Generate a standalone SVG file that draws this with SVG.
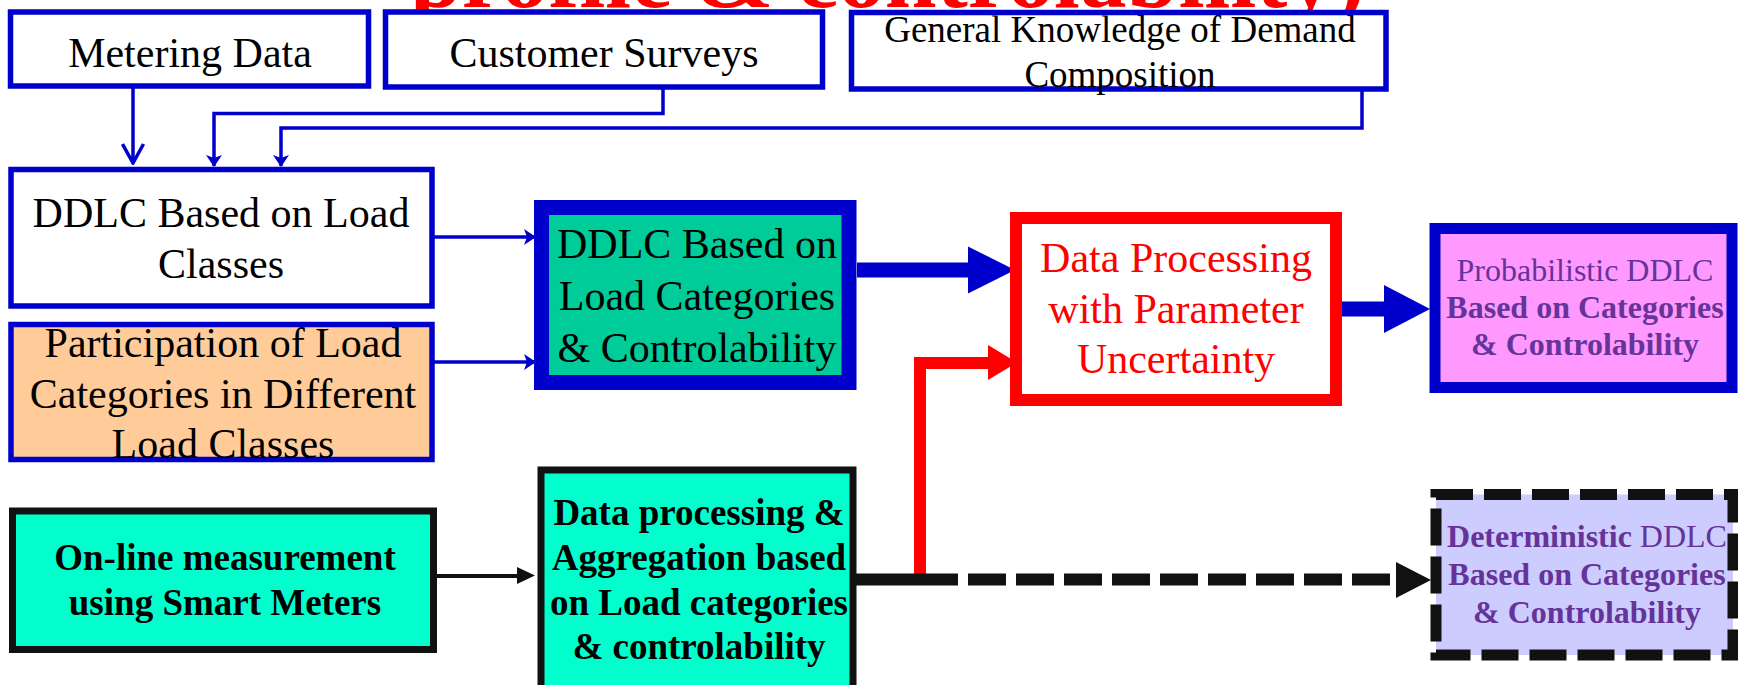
<svg xmlns="http://www.w3.org/2000/svg" width="1738" height="685" viewBox="0 0 1738 685">
<defs>
<style>
text{font-family:"Liberation Serif","Times New Roman",serif;text-anchor:middle}
.t42{font-size:42px;fill:#000}
.t37{font-size:37px;fill:#000}
.b37{font-size:37px;font-weight:bold;fill:#000}
.p32{font-size:32px;fill:#663399}
.bold{font-weight:bold}
.red{fill:#FF0000}
.bbox{stroke:#0000CC;stroke-width:5.5}
.thin{fill:none;stroke:#0000CC;stroke-width:3.5}
</style>
<marker id="ahBlue" markerUnits="userSpaceOnUse" viewBox="0 0 12 16" markerWidth="12" markerHeight="16" refX="11" refY="8" orient="auto">
<path d="M0,0 L12,8 L0,16 L3,8 Z" fill="#0000CC"/>
</marker>
<marker id="ahOpen" markerUnits="userSpaceOnUse" viewBox="-2 -2 23 25" markerWidth="23" markerHeight="25" refX="18" refY="10.5" orient="auto">
<path d="M0,0 L19,10.5 L0,21" fill="none" stroke="#0000CC" stroke-width="3.5"/>
</marker>
</defs>
<rect width="1738" height="685" fill="#FFFFFF"/>
<text x="410" y="7" style="text-anchor:start;font-size:92px;font-weight:bold;fill:#FF0000" textLength="955" lengthAdjust="spacingAndGlyphs">profile &amp; controlability)</text>

<g id="connectors">
<path class="thin" d="M133,86 V162" marker-end="url(#ahOpen)"/>
<path class="thin" d="M663,88 V113.5 H214 V166" marker-end="url(#ahBlue)"/>
<path class="thin" d="M1362,91 V128 H281 V166" marker-end="url(#ahBlue)"/>
<path class="thin" d="M432,237 H535" marker-end="url(#ahBlue)"/>
<path class="thin" d="M432,362 H535" marker-end="url(#ahBlue)"/>
<path d="M857,262.5 H968 V246.5 L1015,270 L968,293.5 V277.5 H857 Z" fill="#0000CC"/>
<path d="M1341,301.5 H1384 V285 L1430,309 L1384,333 V316.5 H1341 Z" fill="#0000CC"/>
<path d="M920,574 V363 H990" fill="none" stroke="#FF0000" stroke-width="12"/>
<path d="M988,345 L1017,362.5 L988,380 Z" fill="#FF0000"/>
<path d="M425,576 H520" fill="none" stroke="#111111" stroke-width="4"/>
<path d="M517,567 L535,575.5 L517,584 Z" fill="#111111"/>
<path d="M853,579.5 H958" fill="none" stroke="#111111" stroke-width="12"/>
<path d="M968,579.5 H1392" fill="none" stroke="#111111" stroke-width="12" stroke-dasharray="38 10"/>
<path d="M1396,562 L1431,580 L1396,598 Z" fill="#111111"/>
</g>

<g id="metering">
<rect class="bbox" x="10.5" y="12" width="358" height="74" fill="#FFFFFF"/>
<text class="t42" x="190" y="67">Metering Data</text>
</g>
<g id="surveys">
<rect class="bbox" x="385.5" y="12" width="437" height="75" fill="#FFFFFF"/>
<text class="t42" x="604" y="67">Customer Surveys</text>
</g>
<g id="general">
<rect class="bbox" x="851.5" y="12.5" width="534.5" height="76.5" fill="#FFFFFF"/>
<text class="t37" x="1120" y="42">General Knowledge of Demand</text>
<text class="t37" x="1120" y="87">Composition</text>
</g>
<g id="ddlc-classes">
<rect class="bbox" x="11" y="169.5" width="421" height="136.5" fill="#FFFFFF"/>
<text class="t42" x="221" y="227">DDLC Based on Load</text>
<text class="t42" x="221" y="278">Classes</text>
</g>
<g id="participation">
<rect class="bbox" x="11" y="324.5" width="421" height="135" fill="#FFCC99"/>
<text class="t42" x="223" y="357">Participation of Load</text>
<text class="t42" x="223" y="408">Categories in Different</text>
<text class="t42" x="223" y="458">Load Classes</text>
</g>
<g id="ddlc-categories">
<rect x="541.5" y="207.5" width="307.5" height="175" fill="#00CC99" stroke="#0000CC" stroke-width="15"/>
<text class="t42" x="697" y="258">DDLC Based on</text>
<text class="t42" x="697" y="310">Load Categories</text>
<text class="t42" x="697" y="362">&amp; Controlability</text>
</g>
<g id="data-processing-uncertainty">
<rect x="1016" y="218" width="320" height="182" fill="#FFFFFF" stroke="#FF0000" stroke-width="12"/>
<text class="t42 red" x="1176" y="272">Data Processing</text>
<text class="t42 red" x="1176" y="323">with Parameter</text>
<text class="t42 red" x="1176" y="373">Uncertainty</text>
</g>
<g id="probabilistic">
<rect x="1435" y="228.5" width="297" height="159" fill="#FF99FF" stroke="#0000CC" stroke-width="11"/>
<text class="p32" x="1585" y="281">Probabilistic DDLC</text>
<text class="p32 bold" x="1585" y="318">Based on Categories</text>
<text class="p32 bold" x="1585" y="355">&amp; Controlability</text>
</g>
<g id="online">
<rect x="12.5" y="511" width="421" height="138.5" fill="#00FFCC" stroke="#111111" stroke-width="7"/>
<text class="b37" x="225" y="570">On-line measurement</text>
<text class="b37" x="225" y="615">using Smart Meters</text>
</g>
<g id="aggregation">
<rect x="541" y="470" width="312" height="240" fill="#00FFCC" stroke="#111111" stroke-width="7"/>
<text class="b37" x="699" y="525">Data processing &amp;</text>
<text class="b37" x="699" y="570">Aggregation based</text>
<text class="b37" x="699" y="615">on Load categories</text>
<text class="b37" x="699" y="659">&amp; controlability</text>
</g>
<g id="deterministic">
<rect x="1436" y="494.5" width="297" height="160.5" fill="#CCCCFF" stroke="#111111" stroke-width="11" stroke-dasharray="37 11"/>
<text class="p32" x="1587" y="547"><tspan class="bold">Deterministic</tspan> DDLC</text>
<text class="p32 bold" x="1587" y="585">Based on Categories</text>
<text class="p32 bold" x="1587" y="623">&amp; Controlability</text>
</g>
</svg>
